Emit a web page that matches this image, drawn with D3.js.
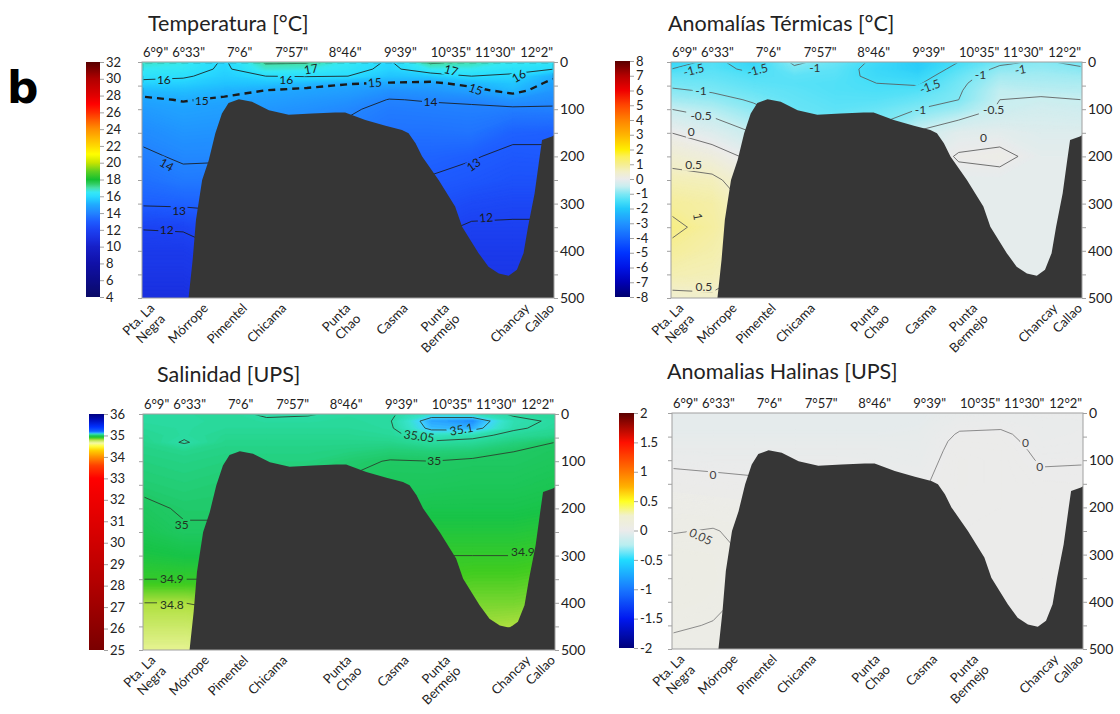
<!DOCTYPE html>
<html>
<head>
<meta charset="utf-8">
<script src="https://cdn.jsdelivr.net/npm/d3@7"></script>
<style>
  body { margin: 0; background: #fff; }
  svg text { font-family: Lato, "Open Sans", sans-serif; fill: #222; }
</style>
</head>
<body>
<svg id="chart" width="1120" height="714"></svg>
<script>
// ---- section geometry (x in % of section length, depth in m) ----
var stationNames = [["Pta. La", "Negra"], ["Mórrope"], ["Pimentel"], ["Chicama"], ["Punta", "Chao"],
                    ["Casma"], ["Punta", "Bermejo"], ["Chancay"], ["Callao"]];
var stationPos = [2.5, 15.5, 25, 34.5, 50, 64, 74, 93.5, 99.5];
var latLabels = ['6°9"', '6°33"', '7°6"', '7°57"', '8°46"', '9°39"', '10°35"', '11°30"', '12°2"'];
var latPos = [3.3, 11.3, 23.7, 36.3, 49.3, 62.7, 75, 85.7, 95.8];
var depthTicks = [0, 50, 100, 150, 200, 250, 300, 350, 400, 450, 500];

// grid on which the profiles are given
var profilePos = [0, 10, 20, 30, 40, 50, 60, 70, 80, 90, 100];
var depthLevels = [0, 15, 30, 45, 60, 80, 100, 150, 200, 250, 300, 350, 400, 450, 500];

// sea floor along the section [x %, depth m]
var bathymetry = [[11.3, 500], [12.3, 419], [13.1, 335], [14.6, 250], [16.2, 208], [17.8, 151], [19.4, 109],
  [21, 87], [23.5, 79], [26.7, 84], [30.8, 102], [35.6, 112], [41.3, 109], [46.9, 107], [49.3, 107],
  [54.2, 123], [59.1, 135], [63.1, 144], [64.7, 151], [66.4, 172], [68, 200], [72, 250], [76, 306],
  [77.7, 349], [81.7, 405], [84.1, 434], [86.6, 448], [89, 453], [91, 440], [92.6, 405], [93.7, 349],
  [95.3, 278], [96.4, 208], [97.1, 165], [99.5, 158], [100, 155]];

// ---- profiles (one column per profilePos, values at depthLevels) ----
var tempProfiles = [
  [16.8, 16.5, 16.2, 15.8, 15.3, 14.85, 14.6, 14.2, 13.85, 13.5, 13.1, 12.05, 11.6, 11.3, 11.0],
  [16.6, 16.4, 16.1, 15.75, 15.4, 15.05, 14.8, 14.45, 14.12, 13.75, 13.15, 12.1, 11.6, 11.3, 11.0],
  [15.9, 15.85, 15.7, 15.5, 15.2, 14.9, 14.7, 14.4, 14.1, 13.7, 13.2, 12.5, 12.0, 11.6, 11.3],
  [17.1, 16.7, 16.0, 15.5, 15.0, 14.7, 14.5, 14.2, 13.9, 13.6, 13.2, 12.7, 12.2, 11.8, 11.5],
  [17.1, 16.6, 16.05, 15.3, 14.85, 14.55, 14.35, 14.0, 13.7, 13.4, 13.0, 12.6, 12.2, 11.9, 11.6],
  [16.5, 16.3, 16.0, 15.05, 14.7, 14.4, 14.1, 13.8, 13.4, 13.0, 12.6, 12.2, 11.9, 11.6, 11.4],
  [15.9, 15.8, 15.5, 14.95, 14.4, 13.97, 13.8, 13.55, 13.2, 12.85, 12.5, 12.15, 11.9, 11.6, 11.4],
  [17.15, 16.5, 15.6, 14.85, 14.5, 14.05, 13.85, 13.55, 13.2, 12.95, 12.6, 12.2, 11.9, 11.6, 11.4],
  [16.95, 16.5, 16.0, 15.25, 14.75, 14.1, 13.9, 13.6, 13.05, 12.8, 12.3, 11.9, 11.6, 11.35, 11.2],
  [16.5, 16.2, 15.9, 15.55, 15.3, 14.45, 13.85, 13.15, 12.85, 12.6, 12.2, 11.9, 11.6, 11.35, 11.2],
  [16.35, 16.0, 15.1, 14.8, 14.5, 14.2, 13.9, 13.1, 12.9, 12.6, 12.2, 11.9, 11.6, 11.35, 11.2]
];
var anomTProfiles = [
  [-1.7, -1.5, -1.25, -1.1, -0.95, -0.75, -0.5, 0.0, 0.35, 0.65, 0.9, 1.1, 0.9, 0.7, 0.4],
  [-1.4, -1.35, -1.25, -1.15, -1.05, -0.85, -0.65, -0.2, 0.2, 0.6, 0.8, 0.85, 0.75, 0.65, 0.45],
  [-1.7, -1.6, -1.4, -1.3, -1.2, -1.05, -0.9, -0.5, -0.1, 0.2, 0.4, 0.5, 0.5, 0.45, 0.4],
  [-0.9, -1.1, -1.3, -1.35, -1.3, -1.25, -1.2, -0.9, -0.5, -0.2, 0.0, 0.1, 0.1, 0.1, 0.1],
  [-1.2, -1.3, -1.35, -1.4, -1.4, -1.35, -1.3, -1.0, -0.6, -0.3, -0.1, 0.0, 0.0, 0.0, 0.0],
  [-1.6, -1.65, -1.6, -1.5, -1.45, -1.35, -1.2, -0.9, -0.6, -0.4, -0.3, -0.2, -0.2, -0.2, -0.2],
  [-1.9, -1.85, -1.7, -1.55, -1.4, -1.2, -1.0, -0.45, -0.2, -0.2, -0.2, -0.15, -0.15, -0.15, -0.15],
  [-1.5, -1.35, -1.2, -1.1, -1.05, -1.0, -0.8, -0.15, 0.03, -0.1, -0.1, -0.1, -0.1, -0.1, -0.1],
  [-1.1, -0.9, -0.75, -0.65, -0.55, -0.5, -0.45, -0.12, 0.08, -0.1, -0.1, -0.1, -0.1, -0.1, -0.1],
  [-0.95, -0.85, -0.75, -0.68, -0.6, -0.45, -0.35, -0.2, -0.1, -0.1, -0.1, -0.1, -0.1, -0.1, -0.1],
  [-1.1, -0.95, -0.8, -0.7, -0.62, -0.5, -0.4, -0.2, -0.1, -0.1, -0.1, -0.1, -0.1, -0.1, -0.1]
];
var salProfiles = [
  [35.045, 35.045, 35.04, 35.035, 35.03, 35.025, 35.02, 35.01, 34.99, 34.97, 34.94, 34.9, 34.8, 34.74, 34.68],
  [35.045, 35.048, 35.045, 35.045, 35.053, 35.03, 35.025, 35.015, 35.005, 34.995, 34.95, 34.9, 34.8, 34.74, 34.68],
  [35.04, 35.04, 35.04, 35.035, 35.03, 35.025, 35.02, 35.01, 35.005, 34.995, 34.95, 34.9, 34.82, 34.76, 34.7],
  [35.055, 35.045, 35.04, 35.035, 35.03, 35.025, 35.02, 35.01, 35.0, 34.99, 34.96, 34.92, 34.88, 34.85, 34.82],
  [35.052, 35.045, 35.04, 35.035, 35.03, 35.025, 35.02, 35.01, 35.0, 34.99, 34.96, 34.93, 34.9, 34.87, 34.84],
  [35.045, 35.042, 35.04, 35.035, 35.03, 35.02, 35.008, 34.995, 34.98, 34.96, 34.94, 34.92, 34.9, 34.88, 34.85],
  [35.045, 35.048, 35.045, 35.04, 35.03, 35.012, 34.998, 34.985, 34.97, 34.95, 34.93, 34.91, 34.89, 34.87, 34.85],
  [35.08, 35.12, 35.11, 35.07, 35.045, 35.015, 35.0, 34.985, 34.96, 34.93, 34.9, 34.88, 34.86, 34.84, 34.82],
  [35.07, 35.13, 35.115, 35.06, 35.04, 35.012, 34.995, 34.98, 34.96, 34.93, 34.9, 34.87, 34.84, 34.81, 34.79],
  [35.045, 35.06, 35.055, 35.04, 35.02, 35.0, 34.995, 34.98, 34.96, 34.93, 34.9, 34.87, 34.84, 34.8, 34.78],
  [35.04, 35.045, 35.04, 35.03, 35.0, 34.99, 34.985, 34.97, 34.95, 34.92, 34.89, 34.86, 34.83, 34.8, 34.78]
];
var anomSProfiles = [
  [-0.03, -0.03, -0.03, -0.025, -0.02, -0.015, -0.008, 0.015, 0.04, 0.048, 0.065, 0.07, 0.065, 0.055, 0.04],
  [-0.03, -0.03, -0.03, -0.025, -0.02, -0.015, -0.01, 0.01, 0.035, 0.052, 0.06, 0.062, 0.058, 0.048, 0.045],
  [-0.03, -0.03, -0.03, -0.025, -0.02, -0.015, -0.01, 0.005, 0.03, 0.04, 0.045, 0.045, 0.04, 0.035, 0.03],
  [-0.03, -0.03, -0.03, -0.025, -0.02, -0.015, -0.01, 0.005, 0.02, 0.025, 0.03, 0.03, 0.03, 0.03, 0.03],
  [-0.03, -0.03, -0.03, -0.025, -0.02, -0.015, -0.01, 0.005, 0.02, 0.025, 0.03, 0.03, 0.03, 0.03, 0.03],
  [-0.03, -0.03, -0.03, -0.025, -0.02, -0.015, -0.012, -0.005, 0.01, 0.02, 0.02, 0.02, 0.02, 0.02, 0.02],
  [-0.03, -0.028, -0.025, -0.022, -0.02, -0.018, -0.015, -0.005, 0.01, 0.015, 0.015, 0.015, 0.015, 0.015, 0.015],
  [-0.015, -0.01, -0.004, 0.003, 0.008, 0.012, 0.015, 0.015, 0.012, 0.01, 0.01, 0.01, 0.01, 0.01, 0.01],
  [-0.012, -0.008, -0.002, 0.004, 0.007, 0.01, 0.01, 0.01, 0.01, 0.01, 0.01, 0.01, 0.01, 0.01, 0.01],
  [-0.005, -0.01, -0.01, -0.01, -0.008, -0.005, -0.002, 0.005, 0.008, 0.008, 0.008, 0.008, 0.008, 0.008, 0.008],
  [-0.005, -0.008, -0.008, -0.007, -0.006, -0.004, -0.001, 0.004, 0.005, 0.005, 0.005, 0.005, 0.005, 0.005, 0.005]
];

// contour levels and their labels [x %, depth, text, angle]
var tempLevels = [12, 13, 14, 15, 16, 17];
var tempLabels = [[5.3, 38, "16", 0], [35, 38, "16", 0], [41, 15, "17", -10], [75, 18, "17", 15],
  [91.5, 30, "16", -30], [14.5, 83, "15", 0], [56.5, 44, "15", -5], [81, 58, "15", 20], [70, 84, "14", 0],
  [6, 218, "14", 30], [9, 316, "13", 0], [80.5, 218, "13", -35], [6, 355, "12", 0], [83.5, 330, "12", -5]];
var anomTLevels = [-1.5, -1, -0.5, 0, 0.5, 1];
var anomTLabels = [[5.5, 17, "-1.5", -15], [21, 17, "-1.5", -15], [35, 12, "-1", 0], [63, 52, "-1.5", -20],
  [75.3, 27, "-1", 0], [85, 16, "-1", -10], [7.3, 60, "-1", 0], [7.3, 113, "-0.5", 0], [60.7, 102, "-1", 0],
  [78.5, 102, "-0.5", 0], [4.9, 148, "0", 0], [76, 160, "0", 0], [5.5, 218, "0.5", 0], [6.5, 328, "1", 80],
  [8, 476, "0.5", 0]];
var salLevels = [34.8, 34.9, 35, 35.05, 35.1];
var salLabels = [[77.3, 33, "35.1", -10], [67, 47, "35.05", 8], [70.7, 100, "35", 0], [9.4, 235, "35", 0],
  [7, 350, "34.9", 0], [7, 405, "34.8", 0], [92.2, 292, "34.9", 0]];
var anomSLevels = [0, 0.05];
var anomSLabels = [[10, 131, "0", 0], [86, 64, "0", 0], [89.5, 114, "0", 0], [7, 262, "0.05", 25]];

// colour bars
var tempStops = [[4, "#0a0a66"], [6, "#0c0c88"], [8, "#1010a8"], [10, "#1620c8"], [11, "#1a30e0"], [12, "#1c42f2"],
  [13, "#1e5cff"], [14, "#2284ff"], [15, "#20aaff"], [15.5, "#22c4ff"], [16, "#2adcff"], [16.5, "#36e8f4"],
  [17, "#48e0a8"], [17.5, "#30cc60"], [18, "#14c030"], [19, "#60d020"], [20, "#c8e400"], [21, "#ffff00"],
  [22, "#ffd800"], [23, "#ffb400"], [24, "#ff9000"], [25, "#ff6000"], [26, "#ff2c00"], [27, "#ff0000"],
  [28, "#e00000"], [30, "#b00000"], [32, "#580000"]];
var anomTStops = [[-8, "#00006e"], [-7, "#0000b4"], [-6, "#0014e6"], [-5, "#0034ff"], [-4, "#1464ff"],
  [-3, "#2094ff"], [-2, "#22c8fa"], [-1.5, "#46def8"], [-1, "#80e8f4"], [-0.5, "#c8eef0"], [0, "#ebebeb"],
  [0.5, "#f2efc8"], [1, "#f6ee90"], [1.5, "#fcf05a"], [2, "#ffee00"], [3, "#ffb400"], [4, "#ff8200"],
  [5, "#ff4600"], [6, "#f00000"], [7, "#b40000"], [8, "#5a0000"]];
var salStops = [[25, "#7a0000"], [26, "#8c0000"], [28, "#b00000"], [30, "#d00000"], [32, "#ee0000"],
  [33, "#ff0000"], [33.6, "#ff4000"], [34, "#ff9000"], [34.3, "#ffd000"], [34.5, "#ffff40"],
  [34.65, "#f4f8a8"], [34.8, "#b0e040"], [34.88, "#40cc20"], [34.95, "#18c448"], [35, "#20c864"],
  [35.04, "#28d898"], [35.08, "#38e4cc"], [35.1, "#40d4ff"], [35.13, "#2090ff"], [35.2, "#1060ff"],
  [35.4, "#0030ff"], [35.7, "#0010c0"], [36, "#000080"]];
var anomSStops = [[-2, "#00007a"], [-1.5, "#0018f0"], [-1, "#1878ff"], [-0.5, "#20dcff"], [-0.25, "#b8eef0"],
  [0, "#ebebeb"], [0.25, "#f0f0d0"], [0.5, "#ffff20"], [0.75, "#ffb000"], [1, "#ff7800"], [1.5, "#ff1000"],
  [2, "#5a0000"]];
var tempTicks = [32, 30, 28, 26, 24, 22, 20, 18, 16, 14, 12, 10, 8, 6, 4];
var anomTTicks = [8, 7, 6, 5, 4, 3, 2, 1, 0, -1, -2, -3, -4, -5, -6, -7, -8];
var salTicks = [36, 35, 34, 33, 32, 31, 30, 29, 28, 27, 26, 25];
var anomSTicks = [2, 1.5, 1, 0.5, 0, -0.5, -1, -1.5, -2];

var svg = d3.select("#chart");
var defs = svg.append("defs");

svg.append("text")
    .attr("x", 7).attr("y", 103)
    .attr("font-weight", "bold")
    .attr("font-size", 44)
    .style("font-family", "'DejaVu Sans'")
    .style("fill", "#000")
    .text("b");

function drawPanel(p) {
    var g = svg.append("g");
    var x = d3.scaleLinear().domain([0, 100]).range([p.left, p.right]);
    var y = d3.scaleLinear().domain([0, 500]).range([p.top, p.bottom]);
    var color = d3.scaleLinear()
        .domain(p.stops.map(function(d) { return d[0]; }))
        .range(p.stops.map(function(d) { return d[1]; }))
        .clamp(true);

    // contour grid coords -> section coords (cell centres at i+0.5)
    var nx = profilePos.length, ny = depthLevels.length;
    var gx = d3.scaleLinear()
        .domain([0].concat(profilePos.map(function(d, i) { return i + 0.5; }), [nx]))
        .range([profilePos[0]].concat(profilePos, [profilePos[nx - 1]]));
    var gy = d3.scaleLinear()
        .domain([0].concat(depthLevels.map(function(d, i) { return i + 0.5; }), [ny]))
        .range([depthLevels[0]].concat(depthLevels, [depthLevels[ny - 1]]));
    var path = d3.geoPath(d3.geoTransform({
        point: function(a, b) { this.stream.point(x(gx(a)), y(gy(b))); }
    }));
    var values = d3.merge(d3.transpose(p.profiles));

    defs.append("clipPath").attr("id", "clip-" + p.id).append("rect")
        .attr("x", p.left).attr("y", p.top)
        .attr("width", p.right - p.left).attr("height", p.bottom - p.top);
    defs.append("clipPath").attr("id", "lclip-" + p.id).append("rect")
        .attr("x", p.left + 1.5).attr("y", p.top + 1.5)
        .attr("width", p.right - p.left - 3).attr("height", p.bottom - p.top - 3);

    // filled field
    var ext = d3.extent(values);
    var th = d3.range(Math.floor(ext[0] / p.step) * p.step, ext[1], p.step);
    var bands = d3.contours().size([nx, ny]).thresholds(th)(values);
    g.append("g").attr("clip-path", "url(#clip-" + p.id + ")")
        .selectAll("path").data(bands).join("path")
        .attr("d", path)
        .attr("fill", function(d) { return color(d.value + p.step / 2); })
        .attr("stroke", function(d) { return color(d.value + p.step / 2); })
        .attr("stroke-width", 0.6);

    // gaps in the isolines behind the labels
    var mask = defs.append("mask").attr("id", "mask-" + p.id)
        .attr("maskUnits", "userSpaceOnUse")
        .attr("x", 0).attr("y", 0).attr("width", 1120).attr("height", 714);
    mask.append("rect").attr("width", 1120).attr("height", 714).attr("fill", "#fff");
    mask.selectAll("rect.gap").data(p.labels).join("rect")
        .attr("class", "gap")
        .attr("x", function(d) { return -(d[2].length * 3.2 + 2); })
        .attr("y", -6)
        .attr("width", function(d) { return d[2].length * 6.4 + 4; })
        .attr("height", 12)
        .attr("transform", function(d) { return "translate(" + x(d[0]) + "," + y(d[1]) + ") rotate(" + d[3] + ")"; })
        .attr("fill", "#000");

    var iso = d3.contours().size([nx, ny]).thresholds(p.levels)(values);
    g.append("g").attr("clip-path", "url(#lclip-" + p.id + ")")
      .append("g").attr("mask", "url(#mask-" + p.id + ")")
        .selectAll("path").data(iso).join("path")
        .attr("d", path)
        .attr("fill", "none")
        .attr("stroke", p.lineColor)
        .attr("stroke-width", function(d) { return d.value === p.dashed ? 2.4 : 0.85; })
        .attr("stroke-dasharray", function(d) { return d.value === p.dashed ? "7,5" : null; });

    g.selectAll("text.clab").data(p.labels).join("text")
        .attr("class", "clab")
        .attr("transform", function(d) { return "translate(" + x(d[0]) + "," + y(d[1]) + ") rotate(" + d[3] + ")"; })
        .attr("text-anchor", "middle")
        .attr("dy", "0.35em")
        .attr("font-size", 12)
        .style("fill", p.labelColor)
        .text(function(d) { return d[2]; });

    // sea floor
    var area = d3.area()
        .x(function(d) { return x(d[0]); })
        .y0(y(500))
        .y1(function(d) { return y(d[1]); });
    g.append("path").datum(bathymetry).attr("d", area).attr("fill", "#363636");

    // frame and depth axes
    g.append("rect")
        .attr("x", p.left).attr("y", p.top)
        .attr("width", p.right - p.left).attr("height", p.bottom - p.top)
        .attr("fill", "none").attr("stroke", "#a0a0a0");
    var la = g.append("g").attr("transform", "translate(" + p.left + ",0)")
        .call(d3.axisLeft(y).tickValues(depthTicks).tickSize(4).tickFormat(""));
    la.select(".domain").remove();
    la.selectAll("line").attr("stroke", "#a0a0a0");
    var ra = g.append("g").attr("transform", "translate(" + p.right + ",0)")
        .call(d3.axisRight(y).tickValues(depthTicks).tickSize(4).tickPadding(2)
            .tickFormat(function(d) { return d % 100 === 0 ? d : ""; }));
    ra.select(".domain").remove();
    ra.selectAll("line").attr("stroke", "#a0a0a0");
    ra.selectAll("text").attr("font-size", 14);

    // latitude labels on top
    g.selectAll("text.lat").data(latLabels).join("text")
        .attr("class", "lat")
        .attr("x", function(d, i) { return x(latPos[i]); })
        .attr("y", p.top - 5)
        .attr("text-anchor", "middle")
        .attr("font-size", 13)
        .text(function(d) { return d; });

    // station names below
    var st = g.selectAll("text.st").data(stationNames).join("text")
        .attr("class", "st")
        .attr("transform", function(d, i) { return "translate(" + (x(stationPos[i]) + 3) + "," + (p.bottom + 11) + ") rotate(-45)"; })
        .attr("text-anchor", "end")
        .attr("font-size", 13);
    st.selectAll("tspan").data(function(d) { return d; }).join("tspan")
        .attr("x", 0)
        .attr("dy", function(d, i) { return i ? "1.15em" : 0; })
        .text(function(d) { return d; });

    // title
    g.append("text").attr("x", p.titleX).attr("y", p.titleY)
        .attr("font-size", 21.5).text(p.title);

    // colour bar
    var cb = p.cb;
    var lo = d3.min(p.ticks), hi = d3.max(p.ticks);
    var cy = d3.scaleLinear().domain([lo, hi]).range([cb[3], cb[2]]);
    var grad = defs.append("linearGradient").attr("id", "grad-" + p.id)
        .attr("x1", 0).attr("y1", 1).attr("x2", 0).attr("y2", 0);
    grad.selectAll("stop").data(d3.range(0, 201)).join("stop")
        .attr("offset", function(d) { return d / 200; })
        .attr("stop-color", function(d) { return color(lo + (hi - lo) * d / 200); });
    g.append("rect").attr("x", cb[0]).attr("y", cb[2])
        .attr("width", cb[1] - cb[0]).attr("height", cb[3] - cb[2])
        .attr("fill", "url(#grad-" + p.id + ")");
    var ca = g.append("g").attr("transform", "translate(" + cb[1] + ",0)")
        .call(d3.axisRight(cy).tickValues(p.ticks).tickSize(4).tickPadding(2).tickFormat(function(d) { return String(d); }));
    ca.select(".domain").remove();
    ca.selectAll("line").attr("stroke", "#a0a0a0");
    ca.selectAll("text").attr("font-size", 13);
}

var panels = [
  { id: "t", title: "Temperatura [°C]", titleX: 148, titleY: 31,
    left: 142, right: 554, top: 62, bottom: 298, cb: [86, 100, 62, 297],
    profiles: tempProfiles, step: 0.05, stops: tempStops, ticks: tempTicks,
    levels: tempLevels, labels: tempLabels, dashed: 15, lineColor: "#1a1a1a", labelColor: "#1a1a1a" },
  { id: "ta", title: "Anomalías Térmicas [°C]", titleX: 668, titleY: 31,
    left: 671, right: 1082, top: 62, bottom: 298, cb: [615, 630, 61, 297],
    profiles: anomTProfiles, step: 0.025, stops: anomTStops, ticks: anomTTicks,
    levels: anomTLevels, labels: anomTLabels, dashed: null, lineColor: "#5a5a5a", labelColor: "#333" },
  { id: "s", title: "Salinidad [UPS]", titleX: 157, titleY: 382,
    left: 143, right: 555, top: 414, bottom: 650, cb: [89, 104, 414, 650],
    profiles: salProfiles, step: 0.004, stops: salStops, ticks: salTicks,
    levels: salLevels, labels: salLabels, dashed: null, lineColor: "#2a3a2a", labelColor: "#223322" },
  { id: "sa", title: "Anomalias Halinas [UPS]", titleX: 667, titleY: 379,
    left: 672, right: 1083, top: 413, bottom: 649, cb: [619, 634, 413, 648],
    profiles: anomSProfiles, step: 0.002, stops: anomSStops, ticks: anomSTicks,
    levels: anomSLevels, labels: anomSLabels, dashed: null, lineColor: "#7a7a7a", labelColor: "#444" }
];

panels.forEach(drawPanel);
</script>
</body>
</html>
